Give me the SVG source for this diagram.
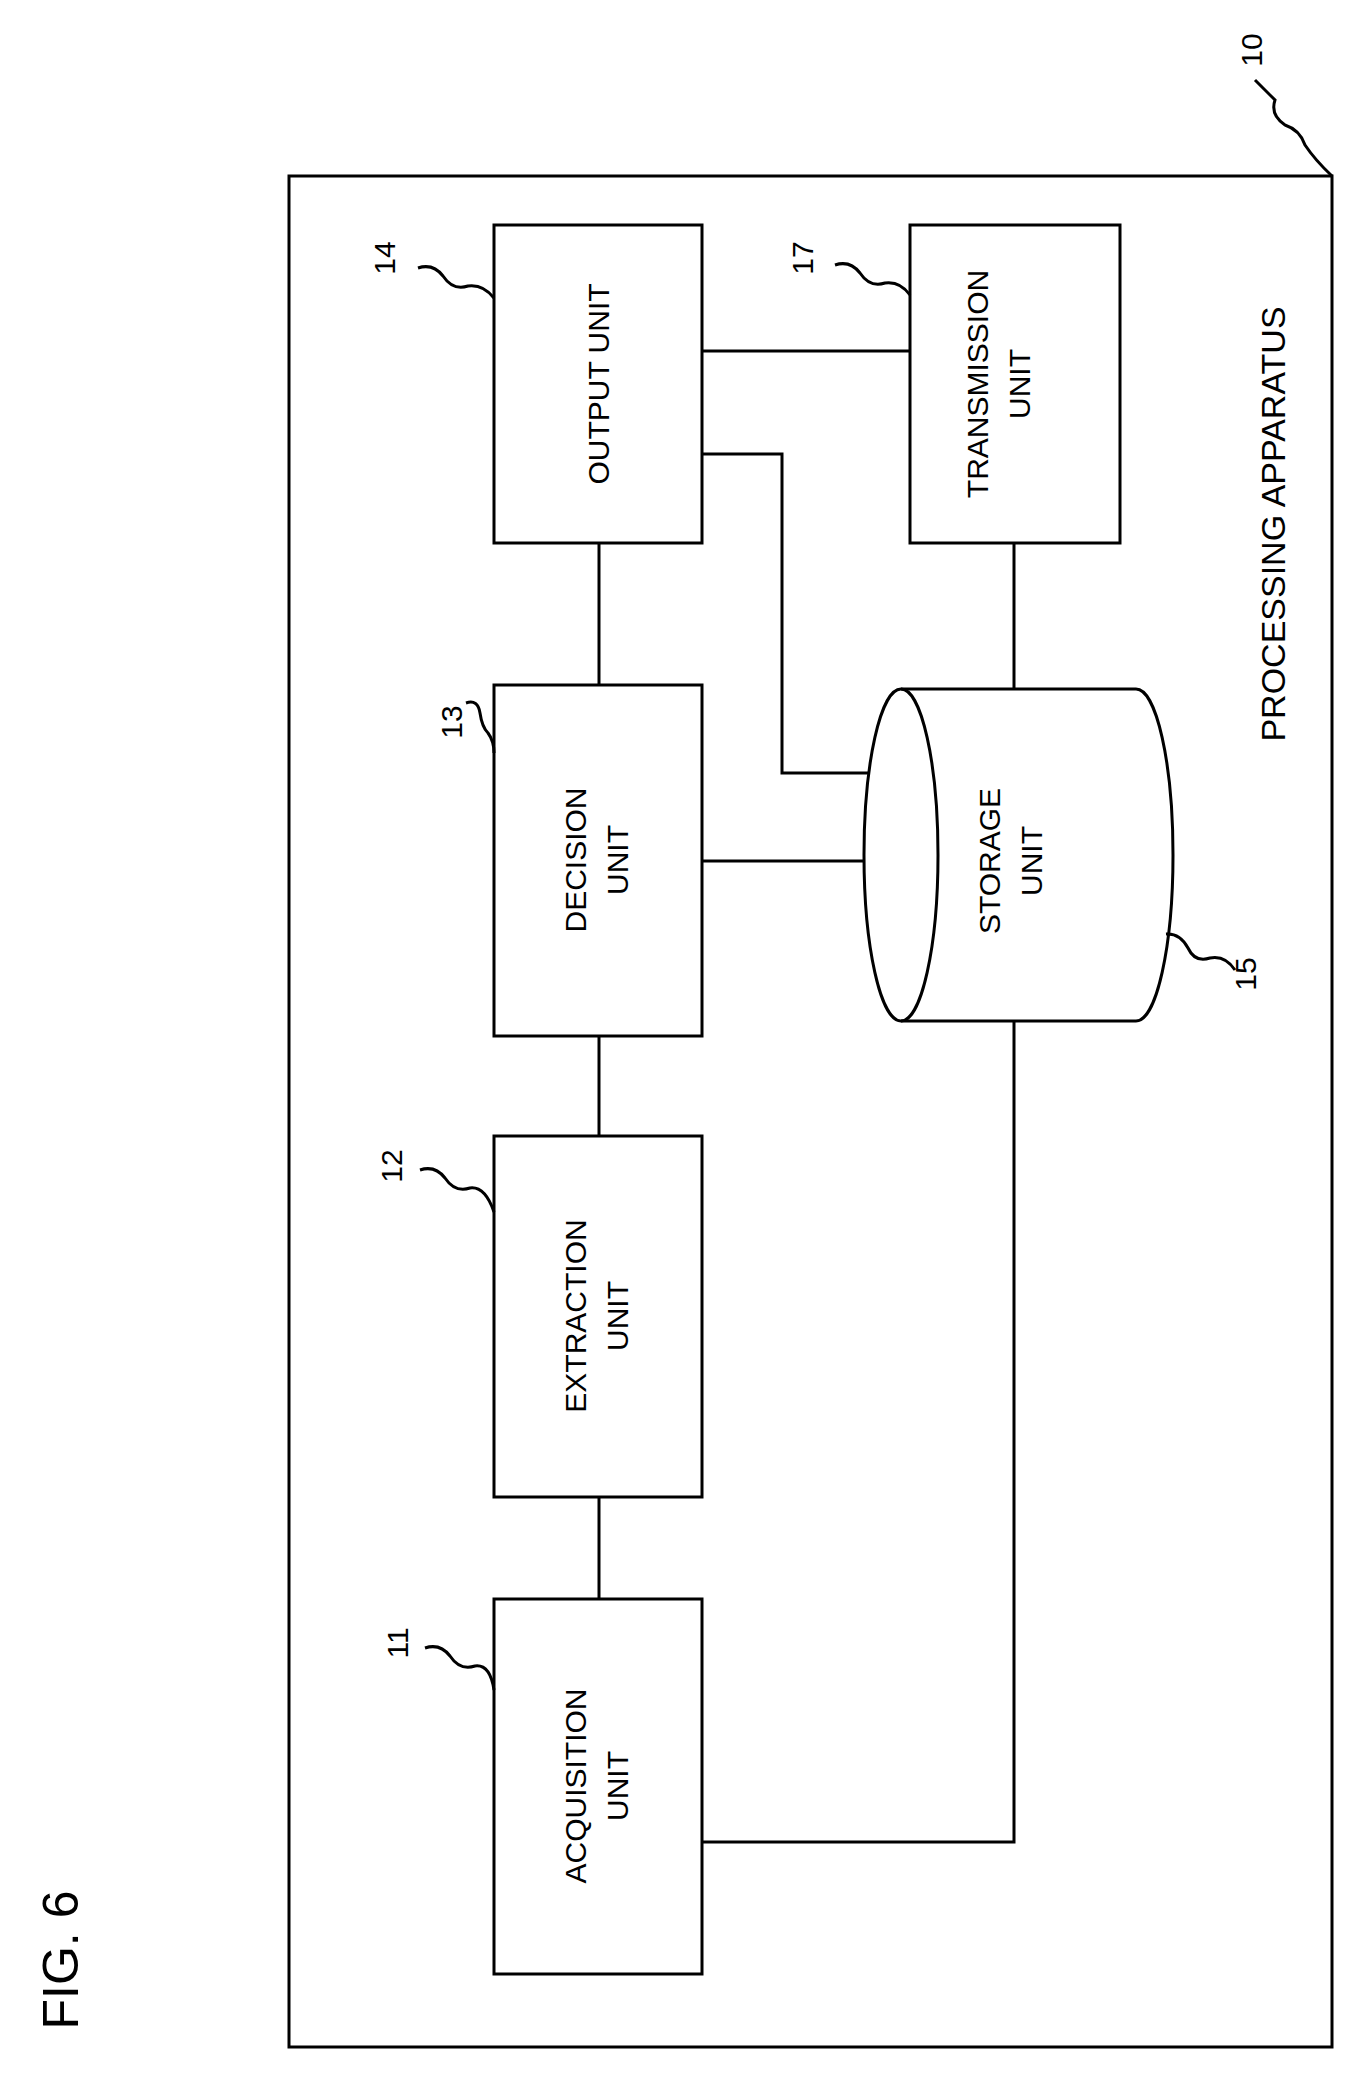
<svg xmlns="http://www.w3.org/2000/svg" width="1357" height="2082" viewBox="0 0 1357 2082">
<style>
.b{fill:none;stroke:#000;stroke-width:3}
.t{font-family:"Liberation Sans",Arial,sans-serif;font-size:30px;fill:#000;text-anchor:middle}
.n{font-family:"Liberation Sans",Arial,sans-serif;font-size:30px;fill:#000;text-anchor:middle}
</style>
<rect width="1357" height="2082" fill="#fff"/>
<text class="t" style="font-size:50px" transform="translate(78,1960) rotate(-90)">FIG. 6</text>
<g id="apparatus">
<rect class="b" x="289" y="176" width="1043" height="1871"/>
<text class="t" style="font-size:34px" transform="translate(1285,524) rotate(-90)">PROCESSING APPARATUS</text>
<text class="n" transform="translate(1262,50) rotate(-90)">10</text>
<path class="b" d="M1255,80 q10,10 20,20 q-5,15 10,25 q15,5 20,20 q10,15 27,31"/>
</g>
<g id="output">
<rect class="b" x="494" y="225" width="208" height="318"/>
<text class="t" transform="translate(609,384) rotate(-90)">OUTPUT UNIT</text>
<text class="n" transform="translate(395,258) rotate(-90)">14</text>
<path class="b" d="M418,268 q15,-5 25,8 q10,15 25,10 q15,-2 26,12"/>
</g>
<g id="transmission">
<rect class="b" x="910" y="225" width="210" height="318"/>
<text class="t" transform="translate(988,384) rotate(-90)">TRANSMISSION</text>
<text class="t" transform="translate(1030,384) rotate(-90)">UNIT</text>
<text class="n" transform="translate(813,258) rotate(-90)">17</text>
<path class="b" d="M835,265 q15,-5 25,8 q10,15 25,10 q15,-2 25,12"/>
</g>
<g id="decision">
<rect class="b" x="494" y="685" width="208" height="351"/>
<text class="t" transform="translate(586,860) rotate(-90)">DECISION</text>
<text class="t" transform="translate(628,860) rotate(-90)">UNIT</text>
<text class="n" transform="translate(462,722) rotate(-90)">13</text>
<path class="b" d="M466,703 q12,-4 14,10 q2,14 8,20 q6,8 6,20"/>
</g>
<g id="extraction">
<rect class="b" x="494" y="1136" width="208" height="361"/>
<text class="t" transform="translate(586,1316) rotate(-90)">EXTRACTION</text>
<text class="t" transform="translate(628,1316) rotate(-90)">UNIT</text>
<text class="n" transform="translate(402,1166) rotate(-90)">12</text>
<path class="b" d="M420,1170 q15,-5 25,8 q10,15 25,10 q15,-2 24,24"/>
</g>
<g id="acquisition">
<rect class="b" x="494" y="1599" width="208" height="375"/>
<text class="t" transform="translate(586,1786) rotate(-90)">ACQUISITION</text>
<text class="t" transform="translate(628,1786) rotate(-90)">UNIT</text>
<text class="n" transform="translate(408,1643) rotate(-90)">11</text>
<path class="b" d="M425,1648 q15,-5 25,8 q10,15 25,10 q15,-2 19,24"/>
</g>
<g id="storage">
<path class="b" d="M901,689 L1136,689 A37,166 0 0 1 1136,1021 L901,1021"/>
<ellipse class="b" cx="901" cy="855" rx="37" ry="166"/>
<text class="t" transform="translate(1000,861) rotate(-90)">STORAGE</text>
<text class="t" transform="translate(1042,861) rotate(-90)">UNIT</text>
<text class="n" transform="translate(1256,974) rotate(-90)">15</text>
<path class="b" d="M1235,970 q-10,-15 -25,-12 q-15,5 -22,-10 q-8,-15 -22,-14"/>
</g>
<g id="connectors" class="b">
<path class="b" d="M702,351 H910"/>
<path class="b" d="M702,454 H782 V773 H869"/>
<path class="b" d="M702,861 H864"/>
<path class="b" d="M1014,543 V689"/>
<path class="b" d="M599,543 V685"/>
<path class="b" d="M599,1036 V1136"/>
<path class="b" d="M599,1497 V1599"/>
<path class="b" d="M1014,1021 V1842 H702"/>
</g>
</svg>
